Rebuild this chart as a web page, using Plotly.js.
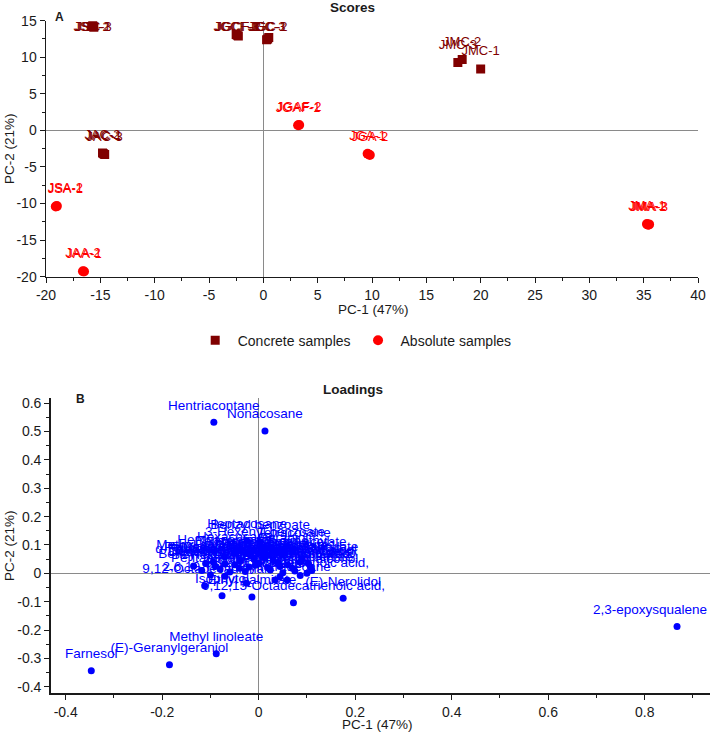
<!DOCTYPE html>
<html>
<head>
<meta charset="utf-8">
<script src="https://cdn.plot.ly/plotly-3.0.1.min.js"></script>
<style>
  html, body { margin: 0; padding: 0; background: #fff; }
  #chart { width: 711px; height: 733px; }
</style>
</head>
<body>
<div id="chart"></div>
<script>
// ---- Scores (PC-1 / PC-2) ----
const concreteNames = ['JSC-1', 'JSC-2', 'JSC-3', 'JGCF-1', 'JGCF-2', 'JGCF-3', 'JGC-1', 'JGC-2', 'JGC-3',
                       'JAC-1', 'JAC-2', 'JAC-3', 'JMC-1', 'JMC-2', 'JMC-3'];
const concretePC1 = [-15.7, -15.8, -15.6, -2.4, -2.3, -2.5, 0.4, 0.5, 0.3, -14.7, -14.8, -14.6, 20.0, 18.3, 17.9];
const concretePC2 = [14.3, 14.2, 14.1, 13.0, 12.9, 13.1, 12.5, 12.7, 12.4, -3.2, -3.1, -3.3, 8.4, 9.7, 9.3];

const absoluteNames = ['JSA-1', 'JSA-2', 'JAA-1', 'JAA-2', 'JGAF-1', 'JGAF-2', 'JGA-1', 'JGA-2', 'JMA-1', 'JMA-2', 'JMA-3'];
const absolutePC1 = [-19.1, -19.0, -16.5, -16.6, 3.2, 3.3, 9.6, 9.8, 35.3, 35.4, 35.5];
const absolutePC2 = [-10.4, -10.35, -19.3, -19.25, 0.7, 0.75, -3.2, -3.35, -12.8, -12.9, -12.85];

const scoreXTicks = [-20, -15, -10, -5, 0, 5, 10, 15, 20, 25, 30, 35, 40];
const scoreYTicks = [-20, -15, -10, -5, 0, 5, 10, 15];

// ---- Loadings (PC-1 / PC-2) ----
const loadingNames = [
  'Hentriacontane', 'Nonacosane', 'Heptacosane', 'Benzyl benzoate', '3-Hexenyl benzoate', 'Tetracosane',
  'Hentriacontanol', 'Benzene, 1,3-dimethyl-', 'Hexacosane', 'Geraniol', 'Heneicosane', 'Octacosane',
  'Methyl anthranilate', 'Phytol', 'Squalene', 'Benzyl salicylate', 'Benzyl acetate', '\u03b4-Cadinene',
  '\u03b1-Farnesene', 'Linalool', 'Methyl jasmonate', 'Geranyl linalool', 'Octadecanoic acid,',
  'Tetradecanoic acid,', '1,2-Benzenedicarboxylic acid,', 'Dodecanoic acid,', 'Benzyl alcohol',
  'cis-Jasmone', 'Hexadecanoic acid,', 'Eugenol', 'Germacrene D', 'Indole', 'Tricosane', 'Pentacosane',
  'Phenylethyl alcohol', 'Methyl hexadecanoate', 'Methyl linolenate', 'Benzyl tiglate', 'Phenethyl benzoate',
  'Hexadecanal', 'Nerolidyl acetate', 'Farnesyl acetate', 'Geranyl acetone', 'Ethyl linolenate',
  'Pentadecanoic acid,', '9,12-Octadecadienoic acid,', '2,6,10-Trimethyltetradecane', '9,12-Octadecadienal',
  'Docosane', 'Isophytol', 'Ethyl palmitate', '9,12,15-Octadecatrienoic acid,', '(E)-Nerolidol',
  'Methyl linoleate', '(E)-Geranylgeraniol', 'Farnesol', '2,3-epoxysqualene'
];
const loadingPC1 = [
  -0.093, 0.013, -0.024, 0.003, 0.013, 0.073,
  -0.071, 0.012, -0.050, 0.050, -0.010, 0.030,
  -0.094, -0.038, 0.086, 0.103, 0.090, -0.110,
  -0.135, -0.007, 0.044, 0.107, -0.050,
  0.060, 0.020, -0.080, -0.118,
  -0.028, 0.075, 0.024, 0.110, -0.070, 0.044, -0.100,
  0.086, -0.040, 0.050, -0.090, 0.070,
  -0.060, 0.000, 0.040, -0.020, 0.100,
  -0.070, 0.059, -0.025, -0.112,
  0.034, -0.076, -0.014, 0.072, 0.175,
  -0.088, -0.185, -0.347, 0.867
];
const loadingPC2 = [
  0.533, 0.502, 0.114, 0.111, 0.088, 0.084,
  0.058, 0.056, 0.070, 0.065, 0.050, 0.045,
  0.040, 0.043, 0.040, 0.035, 0.050, 0.035,
  0.026, 0.028, 0.024, 0.022, 0.030,
  0.030, 0.020, 0.015, 0.010,
  0.006, 0.008, 0.012, 0.010, -0.010, -0.012, -0.006,
  -0.008, 0.018, 0.002, 0.025, 0.018,
  0.005, 0.036, 0.038, 0.022, 0.000,
  0.034, -0.024, -0.035, -0.044,
  -0.024, -0.079, -0.084, -0.104, -0.088,
  -0.284, -0.323, -0.344, -0.188
];

const loadXTicks = [-0.4, -0.2, 0, 0.2, 0.4, 0.6, 0.8];
const loadYTicks = [-0.4, -0.3, -0.2, -0.1, 0, 0.1, 0.2, 0.3, 0.4, 0.5, 0.6];

// ---- page geometry (pixels) ----
const W = 711, H = 733;
const FONT = 'Arial, "Liberation Sans", sans-serif';
const scoresBox = { left: 46, right: 698, top: 20.7, bottom: 276.7, xr: [-20, 40], yr: [-20, 15] };
const loadBox = { left: 50.7, right: 710, top: 398.3, bottom: 693.3, xr: [-0.4311, 0.9353], yr: [-0.4233, 0.6173] };

const DARK_RED = '#800000', RED = '#ff0000', BLUE = '#0000ff', INK = '#1a1a1a';

// text width helper for keeping point labels inside the plotting area
const measureCtx = document.createElement('canvas').getContext('2d');
function textWidth(s, size) {
  measureCtx.font = size + 'px "Liberation Sans", Arial, sans-serif';
  return measureCtx.measureText(s).width;
}

// label placed above its point; pushed inward where it would leave the plot
function labelPlacement(xs, ys, names, box, raise, size) {
  const pw = box.right - box.left, ph = box.bottom - box.top;
  const kx = pw / (box.xr[1] - box.xr[0]);
  const ky = ph / (box.yr[1] - box.yr[0]);
  const lx = [], ly = [];
  xs.forEach((x, i) => {
    const px = (x - box.xr[0]) * kx;
    const py = (box.yr[1] - ys[i]) * ky;
    const w = textWidth(names[i], size);
    let cx = Math.max(px, w / 2 + 1.7);
    cx = Math.min(cx, pw - w / 2 - 3);
    const cy = Math.max(py - raise, size * 0.56);
    lx.push(box.xr[0] + cx / kx);
    ly.push(box.yr[1] - cy / ky);
  });
  return { lx, ly };
}

function fmt(v) { return v === 0 ? '0' : String(v); }
function fmt1(v) { return v === 0 ? '0' : v.toFixed(1); }

const cLab = labelPlacement(concretePC1, concretePC2, concreteNames, scoresBox, 17, 13);
const aLab = labelPlacement(absolutePC1, absolutePC2, absoluteNames, scoresBox, 17, 13);
const lLab = labelPlacement(loadingPC1, loadingPC2, loadingNames, loadBox, 16, 13.5);

const traces = [
  // sample labels (under the markers)
  { type: 'scatter', mode: 'text', x: cLab.lx, y: cLab.ly, text: concreteNames, textposition: 'middle center',
    textfont: { family: FONT, size: 13, color: DARK_RED }, cliponaxis: false, showlegend: false, hoverinfo: 'skip',
    xaxis: 'x', yaxis: 'y' },
  { type: 'scatter', mode: 'text', x: aLab.lx, y: aLab.ly, text: absoluteNames, textposition: 'middle center',
    textfont: { family: FONT, size: 13, color: RED }, cliponaxis: false, showlegend: false, hoverinfo: 'skip',
    xaxis: 'x', yaxis: 'y' },
  { type: 'scatter', mode: 'markers', name: 'Concrete samples', x: concretePC1, y: concretePC2, text: concreteNames,
    marker: { symbol: 'square', size: 9, color: DARK_RED }, xaxis: 'x', yaxis: 'y' },
  { type: 'scatter', mode: 'markers', name: 'Absolute samples', x: absolutePC1, y: absolutePC2, text: absoluteNames,
    marker: { symbol: 'circle', size: 10, color: RED }, xaxis: 'x', yaxis: 'y' },
  // loadings
  { type: 'scatter', mode: 'text', x: lLab.lx, y: lLab.ly, text: loadingNames, textposition: 'middle center',
    textfont: { family: FONT, size: 13.5, color: BLUE }, cliponaxis: false, showlegend: false, hoverinfo: 'skip',
    xaxis: 'x2', yaxis: 'y2' },
  { type: 'scatter', mode: 'markers', x: loadingPC1, y: loadingPC2, text: loadingNames, showlegend: false,
    marker: { symbol: 'circle', size: 7, color: BLUE }, xaxis: 'x2', yaxis: 'y2' }
];

function axisStyle(extra) {
  return Object.assign({
    showgrid: false, showline: true, linecolor: INK, linewidth: 1.5, mirror: false,
    ticks: 'outside', ticklen: 5, tickwidth: 1, tickcolor: INK,
    tickfont: { family: FONT, size: 14, color: INK },
    zeroline: true, zerolinecolor: '#8a8a8a', zerolinewidth: 1,
    tickmode: 'array', automargin: false, fixedrange: true
  }, extra);
}

function px2paperX(px) { return px / W; }
function px2paperY(py) { return 1 - py / H; }

const layout = {
  width: W, height: H,
  margin: { l: 0, r: 0, t: 0, b: 0 },
  paper_bgcolor: '#fff', plot_bgcolor: '#fff',
  font: { family: FONT, color: INK },
  showlegend: true,
  legend: {
    orientation: 'h', x: px2paperX(192.7), y: px2paperY(340.7), xanchor: 'left', yanchor: 'middle',
    itemwidth: 35,
    font: { family: FONT, size: 14, color: INK }, bgcolor: 'rgba(0,0,0,0)'
  },
  xaxis: axisStyle({
    domain: [px2paperX(scoresBox.left), px2paperX(scoresBox.right)], range: scoresBox.xr, anchor: 'y',
    tickvals: scoreXTicks, ticktext: scoreXTicks.map(fmt),
    minor: { tick0: 0, dtick: 2.5, ticks: 'outside', ticklen: 3, tickcolor: INK, showgrid: false }
  }),
  yaxis: axisStyle({
    domain: [px2paperY(scoresBox.bottom), px2paperY(scoresBox.top)], range: scoresBox.yr, anchor: 'x',
    tickvals: scoreYTicks, ticktext: scoreYTicks.map(fmt),
    minor: { tick0: 0, dtick: 2.5, ticks: 'outside', ticklen: 3, tickcolor: INK, showgrid: false }
  }),
  xaxis2: axisStyle({
    domain: [px2paperX(loadBox.left), px2paperX(loadBox.right)], range: loadBox.xr, anchor: 'y2',
    tickvals: loadXTicks, ticktext: loadXTicks.map(fmt1),
    minor: { tick0: 0, dtick: 0.1, ticks: 'outside', ticklen: 3, tickcolor: INK, showgrid: false }
  }),
  yaxis2: axisStyle({
    domain: [px2paperY(loadBox.bottom), px2paperY(loadBox.top)], range: loadBox.yr, anchor: 'x2',
    tickvals: loadYTicks, ticktext: loadYTicks.map(fmt1),
    minor: { tick0: 0, dtick: 0.05, ticks: 'outside', ticklen: 3, tickcolor: INK, showgrid: false }
  }),
  annotations: [
    { text: '<b>Scores</b>', x: px2paperX(352), y: px2paperY(7), font: { size: 13.5 } },
    { text: '<b>A</b>', x: px2paperX(59.5), y: px2paperY(17), font: { size: 12 } },
    { text: 'PC-1 (47%)', x: px2paperX(373), y: px2paperY(309), font: { size: 13.5 } },
    { text: 'PC-2 (21%)', x: px2paperX(9), y: px2paperY(149), textangle: -90, font: { size: 13.5 } },
    { text: '<b>Loadings</b>', x: px2paperX(353), y: px2paperY(389), font: { size: 13.5 } },
    { text: '<b>B</b>', x: px2paperX(80), y: px2paperY(399), font: { size: 12 } },
    { text: 'PC-1 (47%)', x: px2paperX(377), y: px2paperY(724), font: { size: 13.5 } },
    { text: 'PC-2 (21%)', x: px2paperX(9), y: px2paperY(546), textangle: -90, font: { size: 13.5 } }
  ].map(a => Object.assign({
    xref: 'paper', yref: 'paper', showarrow: false, xanchor: 'center', yanchor: 'middle'
  }, a, { font: Object.assign({ family: FONT, color: INK }, a.font) }))
};

Plotly.newPlot('chart', traces, layout, { displayModeBar: false, staticPlot: true });
</script>
</body>
</html>
